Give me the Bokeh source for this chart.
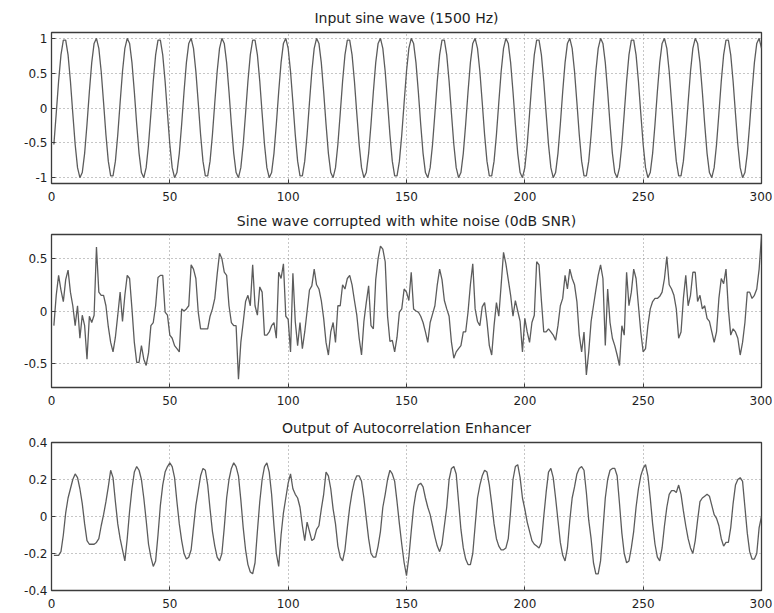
from bokeh.plotting import figure
from bokeh.layouts import column
from bokeh.models import Range1d, FixedTicker, ColumnDataSource
from bokeh.embed import file_html
from bokeh.resources import INLINE

samples = list(range(1, 301))

sine_values = [
    -0.522, -0.078, 0.383, 0.760, 0.972, 0.972, 0.760, 0.383, -0.078, -0.522, -0.853, -0.997, -0.924, -0.649, -0.233, 0.233, 0.649, 0.924, 0.997, 0.853,
    0.522, 0.078, -0.383, -0.760, -0.972, -0.972, -0.760, -0.383, 0.078, 0.522, 0.853, 0.997, 0.924, 0.649, 0.233, -0.233, -0.649, -0.924, -0.997, -0.853,
    -0.522, -0.078, 0.383, 0.760, 0.972, 0.972, 0.760, 0.383, -0.078, -0.522, -0.853, -0.997, -0.924, -0.649, -0.233, 0.233, 0.649, 0.924, 0.997, 0.853,
    0.522, 0.078, -0.383, -0.760, -0.972, -0.972, -0.760, -0.383, 0.078, 0.522, 0.853, 0.997, 0.924, 0.649, 0.233, -0.233, -0.649, -0.924, -0.997, -0.853,
    -0.522, -0.078, 0.383, 0.760, 0.972, 0.972, 0.760, 0.383, -0.078, -0.522, -0.853, -0.997, -0.924, -0.649, -0.233, 0.233, 0.649, 0.924, 0.997, 0.853,
    0.522, 0.078, -0.383, -0.760, -0.972, -0.972, -0.760, -0.383, 0.078, 0.522, 0.853, 0.997, 0.924, 0.649, 0.233, -0.233, -0.649, -0.924, -0.997, -0.853,
    -0.522, -0.078, 0.383, 0.760, 0.972, 0.972, 0.760, 0.383, -0.078, -0.522, -0.853, -0.997, -0.924, -0.649, -0.233, 0.233, 0.649, 0.924, 0.997, 0.853,
    0.522, 0.078, -0.383, -0.760, -0.972, -0.972, -0.760, -0.383, 0.078, 0.522, 0.853, 0.997, 0.924, 0.649, 0.233, -0.233, -0.649, -0.924, -0.997, -0.853,
    -0.522, -0.078, 0.383, 0.760, 0.972, 0.972, 0.760, 0.383, -0.078, -0.522, -0.853, -0.997, -0.924, -0.649, -0.233, 0.233, 0.649, 0.924, 0.997, 0.853,
    0.522, 0.078, -0.383, -0.760, -0.972, -0.972, -0.760, -0.383, 0.078, 0.522, 0.853, 0.997, 0.924, 0.649, 0.233, -0.233, -0.649, -0.924, -0.997, -0.853,
    -0.522, -0.078, 0.383, 0.760, 0.972, 0.972, 0.760, 0.383, -0.078, -0.522, -0.853, -0.997, -0.924, -0.649, -0.233, 0.233, 0.649, 0.924, 0.997, 0.853,
    0.522, 0.078, -0.383, -0.760, -0.972, -0.972, -0.760, -0.383, 0.078, 0.522, 0.853, 0.997, 0.924, 0.649, 0.233, -0.233, -0.649, -0.924, -0.997, -0.853,
    -0.522, -0.078, 0.383, 0.760, 0.972, 0.972, 0.760, 0.383, -0.078, -0.522, -0.853, -0.997, -0.924, -0.649, -0.233, 0.233, 0.649, 0.924, 0.997, 0.853,
    0.522, 0.078, -0.383, -0.760, -0.972, -0.972, -0.760, -0.383, 0.078, 0.522, 0.853, 0.997, 0.924, 0.649, 0.233, -0.233, -0.649, -0.924, -0.997, -0.853,
    -0.522, -0.078, 0.383, 0.760, 0.972, 0.972, 0.760, 0.383, -0.078, -0.522, -0.853, -0.997, -0.924, -0.649, -0.233, 0.233, 0.649, 0.924, 0.997, 0.853,
]

noisy_values = [
    -0.14, 0.15, 0.34, 0.20, 0.09, 0.30, 0.39, 0.18, 0.05, -0.14,
    0.05, -0.26, -0.04, -0.14, -0.46, -0.05, -0.11, -0.04, 0.61, 0.18,
    0.15, 0.15, 0.05, -0.15, -0.30, -0.39, -0.25, -0.04, 0.18, -0.10,
    0.15, 0.34, 0.31, 0.02, -0.30, -0.49, -0.49, -0.33, -0.46, -0.52,
    -0.40, -0.14, -0.11, 0.05, 0.32, 0.34, 0.34, -0.01, -0.04, -0.23,
    -0.26, -0.33, -0.36, -0.39, 0.02, 0.00, 0.02, 0.05, 0.44, 0.40,
    0.31, -0.01, -0.17, -0.17, -0.17, -0.17, -0.05, 0.02, 0.12, 0.35,
    0.55, 0.50, 0.37, 0.34, 0.05, -0.11, -0.14, -0.14, -0.65, -0.30,
    -0.11, 0.09, 0.15, 0.05, 0.44, 0.05, -0.04, 0.23, 0.18, -0.23,
    -0.23, -0.20, -0.14, -0.11, -0.26, 0.37, 0.31, 0.45, -0.05, -0.08,
    -0.39, 0.36, -0.10, -0.33, -0.11, -0.36, -0.20, 0.00, 0.20, 0.24,
    0.40, 0.25, 0.21, 0.10, -0.07, -0.30, -0.42, -0.20, -0.11, -0.30,
    0.05, 0.05, 0.25, 0.21, 0.31, 0.34, 0.25, 0.10, -0.04, -0.26,
    -0.42, -0.10, 0.08, 0.24, -0.14, -0.17, 0.30, 0.50, 0.62, 0.59,
    0.47, -0.05, -0.29, -0.28, -0.39, -0.25, -0.01, 0.02, 0.21, 0.18,
    0.10, 0.37, 0.02, 0.00, -0.01, -0.05, -0.11, -0.20, -0.30, -0.11,
    -0.03, 0.05, 0.25, 0.40, 0.30, 0.10, 0.02, -0.05, -0.30, -0.45,
    -0.39, -0.36, -0.33, -0.20, -0.20, -0.01, 0.25, 0.45, 0.02, -0.10,
    -0.14, 0.04, 0.08, -0.10, -0.33, -0.42, -0.14, 0.08, -0.05, 0.25,
    0.56, 0.45, 0.30, 0.15, -0.05, 0.10, 0.00, -0.10, -0.39, -0.07,
    -0.20, -0.30, -0.11, -0.04, 0.47, 0.44, 0.10, -0.20, -0.20, -0.17,
    -0.20, -0.23, -0.28, -0.14, 0.05, 0.12, 0.34, 0.21, 0.40, 0.31,
    0.25, 0.09, -0.23, -0.39, -0.20, -0.61, -0.39, -0.10, 0.05, 0.20,
    0.34, 0.44, 0.31, -0.33, 0.21, -0.11, -0.26, -0.33, -0.42, -0.52,
    -0.14, -0.23, 0.37, 0.05, 0.18, 0.40, 0.31, 0.05, -0.20, -0.39,
    -0.36, -0.14, 0.02, 0.09, 0.12, 0.12, 0.14, 0.18, 0.31, 0.52,
    0.25, 0.21, 0.15, 0.02, -0.26, -0.20, 0.12, 0.34, 0.05, 0.15,
    0.37, 0.37, 0.09, 0.15, 0.02, 0.05, -0.07, -0.10, -0.20, -0.30,
    -0.20, 0.12, 0.31, 0.26, 0.40, 0.02, -0.23, -0.17, -0.20, -0.26,
    -0.42, -0.30, -0.11, 0.18, 0.18, 0.12, 0.15, 0.21, 0.40, 0.72,
]

enhanced_values = [
    -0.21, -0.21, -0.21, -0.19, -0.10, 0.02, 0.10, 0.15, 0.20, 0.23,
    0.21, 0.15, 0.07, -0.04, -0.13, -0.15, -0.15, -0.15, -0.14, -0.12,
    -0.05, 0.01, 0.08, 0.16, 0.25, 0.21, 0.08, -0.04, -0.12, -0.18,
    -0.24, -0.12, 0.03, 0.15, 0.24, 0.27, 0.25, 0.20, 0.10, -0.02,
    -0.15, -0.22, -0.27, -0.24, -0.10, 0.06, 0.17, 0.24, 0.27, 0.29,
    0.27, 0.21, 0.08, -0.04, -0.13, -0.20, -0.23, -0.22, -0.18, -0.06,
    0.06, 0.14, 0.22, 0.26, 0.25, 0.17, 0.04, -0.08, -0.16, -0.22,
    -0.24, -0.20, -0.06, 0.10, 0.20, 0.26, 0.29, 0.27, 0.22, 0.09,
    -0.06, -0.18, -0.26, -0.30, -0.31, -0.25, -0.08, 0.08, 0.20, 0.27,
    0.29, 0.24, 0.12, -0.05, -0.20, -0.27, -0.10, 0.02, 0.10, 0.18,
    0.23, 0.15, 0.12, 0.10, 0.05, -0.05, -0.13, -0.03, -0.08, -0.13,
    -0.12, -0.07, -0.05, 0.04, 0.12, 0.24, 0.22, 0.15, 0.04, -0.04,
    -0.16, -0.22, -0.24, -0.18, -0.06, 0.05, 0.13, 0.19, 0.22, 0.22,
    0.19, 0.10, -0.01, -0.12, -0.20, -0.22, -0.22, -0.16, -0.08, 0.05,
    0.12, 0.20, 0.25, 0.23, 0.19, 0.08, -0.04, -0.15, -0.25, -0.32,
    -0.22, -0.08, 0.05, 0.13, 0.17, 0.18, 0.16, 0.10, 0.05, 0.01,
    -0.05, -0.11, -0.16, -0.19, -0.15, -0.05, 0.05, 0.20, 0.26, 0.27,
    0.23, 0.08, -0.07, -0.17, -0.23, -0.26, -0.26, -0.20, -0.05, 0.10,
    0.17, 0.22, 0.25, 0.24, 0.17, 0.07, -0.04, -0.12, -0.16, -0.18,
    -0.18, -0.17, -0.12, 0.03, 0.20, 0.27, 0.28, 0.21, 0.10, 0.04,
    -0.03, -0.08, -0.13, -0.15, -0.16, -0.17, -0.14, 0.00, 0.13, 0.24,
    0.26, 0.21, 0.10, -0.02, -0.14, -0.21, -0.24, -0.17, -0.02, 0.10,
    0.16, 0.23, 0.26, 0.27, 0.25, 0.13, -0.02, -0.12, -0.25, -0.31,
    -0.31, -0.24, -0.07, 0.10, 0.20, 0.25, 0.26, 0.26, 0.22, 0.07,
    -0.09, -0.20, -0.25, -0.24, -0.17, -0.08, 0.05, 0.15, 0.22, 0.26,
    0.28, 0.22, 0.10, -0.04, -0.15, -0.22, -0.24, -0.17, -0.05, 0.05,
    0.12, 0.14, 0.14, 0.13, 0.17, 0.12, 0.03, -0.05, -0.12, -0.17,
    -0.20, -0.13, -0.02, 0.08, 0.10, 0.11, 0.12, 0.11, 0.06, 0.01,
    -0.01, -0.05, -0.12, -0.16, -0.14, -0.14, -0.06, 0.07, 0.17, 0.20,
    0.21, 0.19, 0.05, -0.09, -0.19, -0.23, -0.23, -0.20, -0.06, 0.00,
]

titles = [
    "Input sine wave (1500 Hz)",
    "Sine wave corrupted with white noise (0dB SNR)",
    "Output of Autocorrelation Enhancer",
]

x_ticks = [0, 50, 100, 150, 200, 250, 300]

y_ticks_top = [-1, -0.5, 0, 0.5, 1]
y_labels_top = ["-1", "-0.5", "0", "0.5", "1"]
y_ticks_mid = [-0.5, 0, 0.5]
y_labels_mid = ["-0.5", "0", "0.5"]
y_ticks_bot = [-0.4, -0.2, 0, 0.2, 0.4]
y_labels_bot = ["-0.4", "-0.2", "0", "0.2", "0.4"]

FONT = "DejaVu Sans"
TEXT = "#1e1e1e"
LINE = "#5c5c5c"
FRAME = "#3c3c3c"
GRID = "#8c8c8c"


def make_panel(title, values, y_lim, y_ticks, y_labels, height, b_top, b_bottom, standoff):
    p = figure(
        width=772, height=height,
        x_range=Range1d(0, 300), y_range=Range1d(y_lim[0], y_lim[1]),
        output_backend="svg", toolbar_location=None,
        min_border_left=51, min_border_right=11,
        min_border_top=b_top, min_border_bottom=b_bottom,
        title=title,
    )
    p.title.align = "center"
    p.title.text_font = FONT
    p.title.text_font_size = "14px"
    p.title.text_font_style = "normal"
    p.title.text_color = TEXT
    p.title.standoff = standoff

    p.background_fill_color = "white"
    p.border_fill_color = "white"
    p.outline_line_color = FRAME
    p.outline_line_width = 1.3

    src = ColumnDataSource(dict(x=samples, y=values))
    p.line(x="x", y="y", source=src, line_color=LINE, line_width=1.3)

    p.xaxis.ticker = FixedTicker(ticks=x_ticks)
    p.yaxis.ticker = FixedTicker(ticks=y_ticks)
    p.yaxis.major_label_overrides = {t: l for t, l in zip(y_ticks, y_labels)}

    for ax in (p.xaxis, p.yaxis):
        ax.axis_line_color = None
        ax.major_tick_in = 4
        ax.major_tick_out = 0
        ax.major_tick_line_color = FRAME
        ax.minor_tick_line_color = None
        ax.major_label_text_font = FONT
        ax.major_label_text_font_size = "12px"
        ax.major_label_text_color = TEXT
    p.xaxis.major_label_standoff = 8
    p.yaxis.major_label_standoff = 4

    for g in (p.xgrid, p.ygrid):
        g.grid_line_color = GRID
        g.grid_line_dash = "1 3"
        g.grid_line_width = 1
    return p


p1 = make_panel(titles[0], sine_values, (-1.08, 1.08), y_ticks_top, y_labels_top, 205, 32, 22, 14)
p2 = make_panel(titles[1], noisy_values, (-0.73, 0.73), y_ticks_mid, y_labels_mid, 205, 29, 23, 11)
p3 = make_panel(titles[2], enhanced_values, (-0.4, 0.4), y_ticks_bot, y_labels_bot, 202, 28, 22, 14)

layout = column(p1, p2, p3, spacing=0)

open("out.html", "w").write(file_html(layout, INLINE))
